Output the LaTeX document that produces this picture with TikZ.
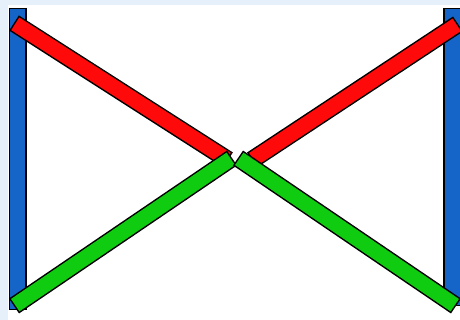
\documentclass[tikz,border=0pt]{standalone}
\usetikzlibrary{calc}
\definecolor{bgblue}{HTML}{E6F0FA}
\definecolor{barblue}{HTML}{1565C8}
\definecolor{barred}{HTML}{FF0A0A}
\definecolor{bargreen}{HTML}{10CC10}
\begin{document}
\begin{tikzpicture}[x=1pt,y=-1pt,
  barout/.style={line width=18pt,draw=black},
  barin/.style={line width=15pt}]
\fill[bgblue] (0,0) rectangle (460,320);
\fill[white] (8,5) rectangle (460,320);
\useasboundingbox (0,0) rectangle (460,320);
% blue verticals
\coordinate (lt) at (17.5,8);
\coordinate (lb) at (17.5,310);
\coordinate (rt) at (452,8);
\coordinate (rb) at (452,306);
\draw[barout] (lt) -- (lb);
\draw[barin,draw=barblue] ([yshift=-1.5pt]lt) -- ([yshift=1.5pt]lb);
\draw[barout] (rt) -- (rb);
\draw[barin,draw=barblue] ([yshift=-1.5pt]rt) -- ([yshift=1.5pt]rb);
% red
\coordinate (r1a) at (14,23);
\coordinate (r1b) at (228,160);
\coordinate (r2a) at (252,160);
\coordinate (r2b) at (458,24);
\draw[barout] (r1a) -- (r1b);
\draw[barin,draw=barred] ($(r1a)!1.5pt!(r1b)$) -- ($(r1b)!1.5pt!(r1a)$);
\draw[barout] (r2a) -- (r2b);
\draw[barin,draw=barred] ($(r2a)!1.5pt!(r2b)$) -- ($(r2b)!1.5pt!(r2a)$);
% green
\coordinate (g1a) at (14,306);
\coordinate (g1b) at (232,158);
\coordinate (g2a) at (238,158);
\coordinate (g2b) at (456,306);
\draw[barout] (g1a) -- (g1b);
\draw[barin,draw=bargreen] ($(g1a)!1.5pt!(g1b)$) -- ($(g1b)!1.5pt!(g1a)$);
\draw[barout] (g2a) -- (g2b);
\draw[barin,draw=bargreen] ($(g2a)!1.5pt!(g2b)$) -- ($(g2b)!1.5pt!(g2a)$);
\end{tikzpicture}
\end{document}
